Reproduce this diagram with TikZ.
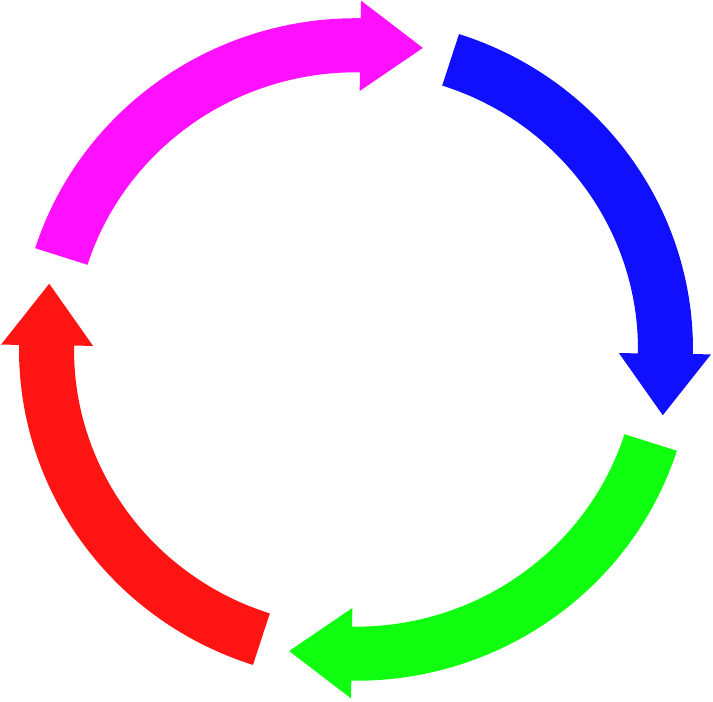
\documentclass[tikz,border=0pt]{standalone}
\definecolor{arrblue}{RGB}{16,16,255}
\definecolor{arrgreen}{RGB}{16,255,16}
\definecolor{arrred}{RGB}{255,20,20}
\definecolor{arrmagenta}{RGB}{255,16,255}
\begin{document}
\begin{tikzpicture}[line join=miter]
  \useasboundingbox (0,0) rectangle (7.13,7.02);
  \def\Ro{3.37}
  \def\Ri{2.82}
  \def\Ho{3.55}
  \def\Hi{2.63}
  \def\Rt{3.14}
  \begin{scope}[shift={(3.56,3.525)},yscale=0.983]
    \foreach \col/\base in {arrblue/-0.8,arrgreen/-90.8,arrred/-180.8,arrmagenta/89.2}{
      \pgfmathsetmacro{\tail}{\base+73}
      \pgfmathsetmacro{\tip}{\base-11.5}
      \fill[\col] (\tail:\Ro) arc[start angle=\tail,end angle=\base,radius=\Ro]
        -- (\base:\Ho) -- (\tip:\Rt) -- (\base:\Hi) -- (\base:\Ri)
        arc[start angle=\base,end angle=\tail,radius=\Ri] -- cycle;
    }
  \end{scope}
\end{tikzpicture}
\end{document}
